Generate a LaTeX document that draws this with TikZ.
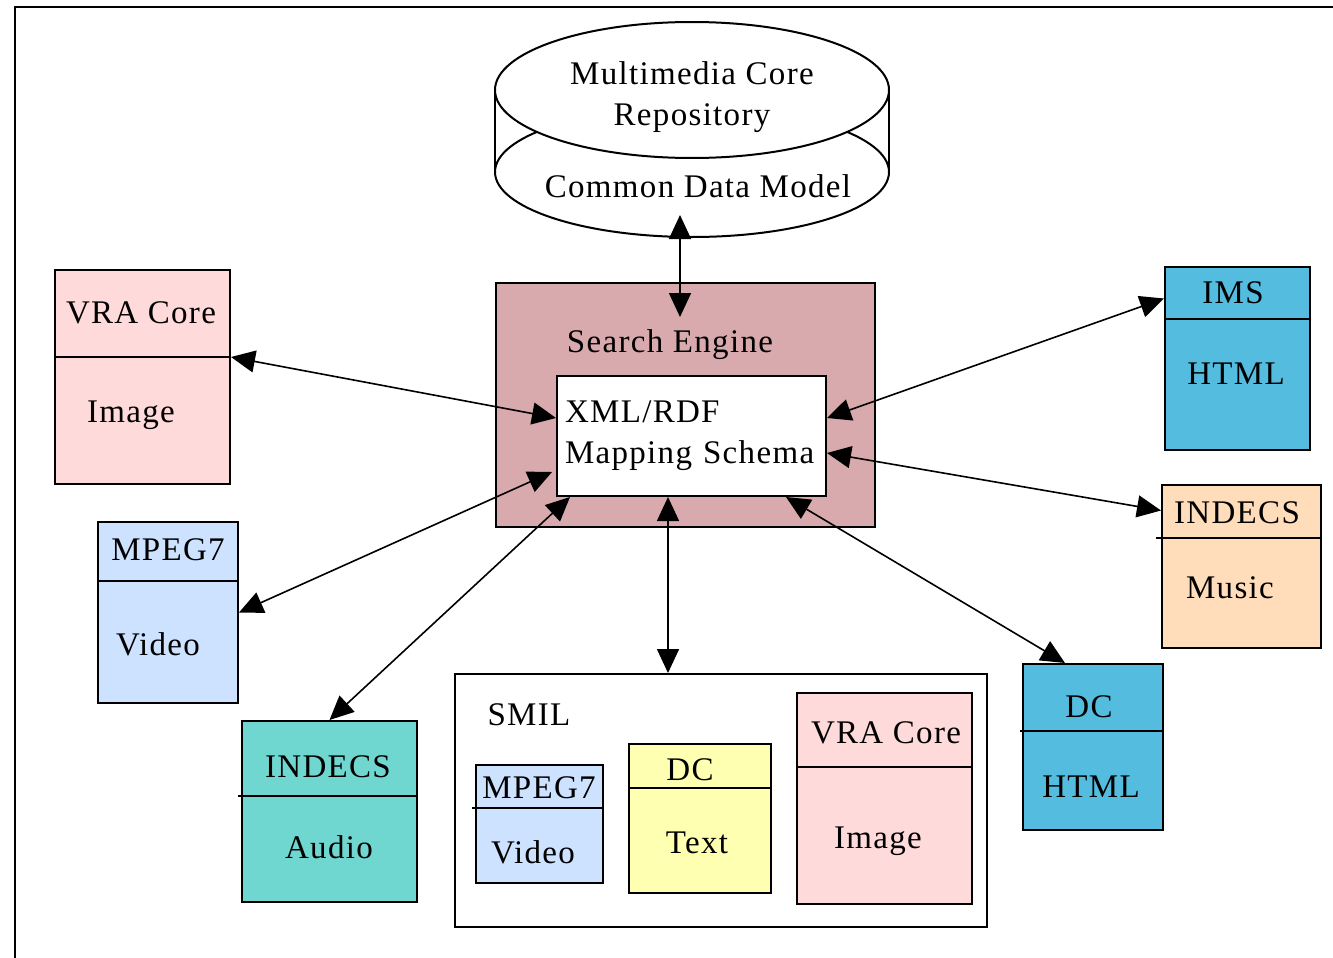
\documentclass[tikz,border=0pt]{standalone}
\usepackage{fontspec}
\setmainfont{Liberation Serif}[LetterSpace=4.0]
\usetikzlibrary{arrows.meta, calc}

\definecolor{vrapink}{RGB}{255,218,218}
\definecolor{mpegblue}{RGB}{204,226,255}
\definecolor{audioteal}{RGB}{112,214,208}
\definecolor{htmlblue}{RGB}{84,188,222}
\definecolor{musicpeach}{RGB}{255,220,186}
\definecolor{textyellow}{RGB}{255,255,178}
\definecolor{enginerose}{RGB}{216,170,174}

\begin{document}
\begin{tikzpicture}[
    % Global Styles (1 unit = 1 pixel of the page, y pointing down)
    x=1pt, y=-1pt,
    font=\fontsize{33}{41}\selectfont,
    % Style for the framed schema cards
    card_box/.style={draw, line width=2pt, inner sep=0pt},
    div_line/.style={line width=2pt},
    card_text/.style={anchor=base, inner sep=0pt},
    % Style for the two-way mappings
    link_arrow/.style={{Triangle[length=24pt,width=22pt]}-{Triangle[length=24pt,width=22pt]}, line width=1.6pt}
]
\useasboundingbox (0,0) rectangle (1333,958);

% Page frame
\draw[line width=2.5pt] (15,958) -- (15,7) -- (1333,7);

%% --- REPOSITORY (CYLINDER) ---
\draw[line width=2pt, fill=white] (692,172) ellipse [x radius=197, y radius=65];
\draw[line width=2pt] (495,90) -- (495,172);
\draw[line width=2pt] (889,90) -- (889,172);
\draw[line width=2pt, fill=white] (692,90) ellipse [x radius=197, y radius=68];
\node[align=center, inner sep=0pt] (repo) at (692,97) {Multimedia Core\\Repository};
\node[card_text] (cdm) at (698,197) {Common Data Model};
\coordinate (repobase) at (680,215);

%% --- SEARCH ENGINE ---
\node[card_box, fill=enginerose, minimum width=379pt, minimum height=244pt] (engine) at (685.5,405) {};
\node[card_text] (enginehead) at (670,352) {Search Engine};
\node[card_box, fill=white, minimum height=120pt, text width=253pt, inner xsep=8pt, align=left] (xml) at (691.5,436) {XML/RDF\\Mapping Schema};

%% --- LEFT SCHEMAS ---
% VRA Core / Image
\node[card_box, fill=vrapink, minimum width=175pt, minimum height=214pt] (vraL) at (142.5,377) {};
\draw[div_line] (vraL.west |- 0,357) -- (vraL.east |- 0,357);
\node[card_text] (vraLhead) at (141,323) {VRA Core};
\node[card_text] (vraLbody) at (131,422) {Image};

% MPEG7 / Video
\node[card_box, fill=mpegblue, minimum width=140pt, minimum height=181pt] (mpegL) at (168,612.5) {};
\draw[div_line] (mpegL.west |- 0,581) -- (mpegL.east |- 0,581);
\node[card_text] (mpegLhead) at (168,560) {MPEG7};
\node[card_text] (mpegLbody) at (158,655) {Video};

% INDECS / Audio
\node[card_box, fill=audioteal, minimum width=175pt, minimum height=181pt] (audio) at (329.5,811.5) {};
\draw[div_line] ([xshift=-3pt]audio.west |- 0,796) -- (audio.east |- 0,796);
\node[card_text] (audiohead) at (328,777) {INDECS};
\node[card_text] (audiobody) at (329,858) {Audio};

%% --- SMIL PRESENTATION ---
\node[card_box, fill=white, minimum width=532pt, minimum height=253pt] (smil) at (721,800.5) {};
\node[card_text] (smilhead) at (529,725) {SMIL};

% MPEG7 / Video
\node[card_box, fill=mpegblue, minimum width=127pt, minimum height=118pt] (mpegS) at (539.5,824) {};
\draw[div_line] ([xshift=-3pt]mpegS.west |- 0,808) -- (mpegS.east |- 0,808);
\node[card_text] (mpegShead) at (539,798) {MPEG7};
\node[card_text] (mpegSbody) at (533,863) {Video};

% DC / Text
\node[card_box, fill=textyellow, minimum width=142pt, minimum height=149pt] (dcS) at (700,818.5) {};
\draw[div_line] (dcS.west |- 0,788) -- (dcS.east |- 0,788);
\node[card_text] (dcShead) at (690,780) {DC};
\node[card_text] (dcSbody) at (697,853) {Text};

% VRA Core / Image
\node[card_box, fill=vrapink, minimum width=175pt, minimum height=211pt] (vraS) at (884.5,798.5) {};
\draw[div_line] (vraS.west |- 0,767) -- (vraS.east |- 0,767);
\node[card_text] (vraShead) at (886,743) {VRA Core};
\node[card_text] (vraSbody) at (878,848) {Image};

%% --- RIGHT SCHEMAS ---
% IMS / HTML
\node[card_box, fill=htmlblue, minimum width=145pt, minimum height=183pt] (ims) at (1237.5,358.5) {};
\draw[div_line] (ims.west |- 0,319) -- (ims.east |- 0,319);
\node[card_text] (imshead) at (1233,303) {IMS};
\node[card_text] (imsbody) at (1236,384) {HTML};

% INDECS / Music
\node[card_box, fill=musicpeach, minimum width=159pt, minimum height=163pt] (music) at (1241.5,566.5) {};
\draw[div_line] ([xshift=-5pt]music.west |- 0,538) -- (music.east |- 0,538);
\node[card_text] (musichead) at (1237,523) {INDECS};
\node[card_text] (musicbody) at (1230,598) {Music};

% DC / HTML
\node[card_box, fill=htmlblue, minimum width=140pt, minimum height=166pt] (dcH) at (1093,747) {};
\draw[div_line] ([xshift=-2pt]dcH.west |- 0,731) -- (dcH.east |- 0,731);
\node[card_text] (dcHhead) at (1089,717) {DC};
\node[card_text] (dcHbody) at (1091,797) {HTML};

%% --- MAPPINGS ---
\draw[link_arrow] (repobase) -- ([xshift=-5.5pt, yshift=-35pt]engine.north);
\draw[link_arrow] ([yshift=20pt]vraL.east) -- ([yshift=18pt]xml.west);
\draw[link_arrow] (mpegL.east) -- ([xshift=-4pt, yshift=-36pt]xml.west);
\draw[link_arrow] (audio.north) -- ([xshift=14pt]xml.south west);
\draw[link_arrow] ([xshift=-53pt]smil.north) -- ([xshift=-53pt]smil.north |- xml.south);
\draw[link_arrow] ([xshift=-28pt]dcH.north) -- ([xshift=-41pt]xml.south east);
\draw[link_arrow] ([yshift=56pt]music.west) -- ([yshift=-17pt]xml.east);
\draw[link_arrow] ([yshift=60pt]ims.west) -- ([yshift=18pt]xml.east);

\end{tikzpicture}
\end{document}
